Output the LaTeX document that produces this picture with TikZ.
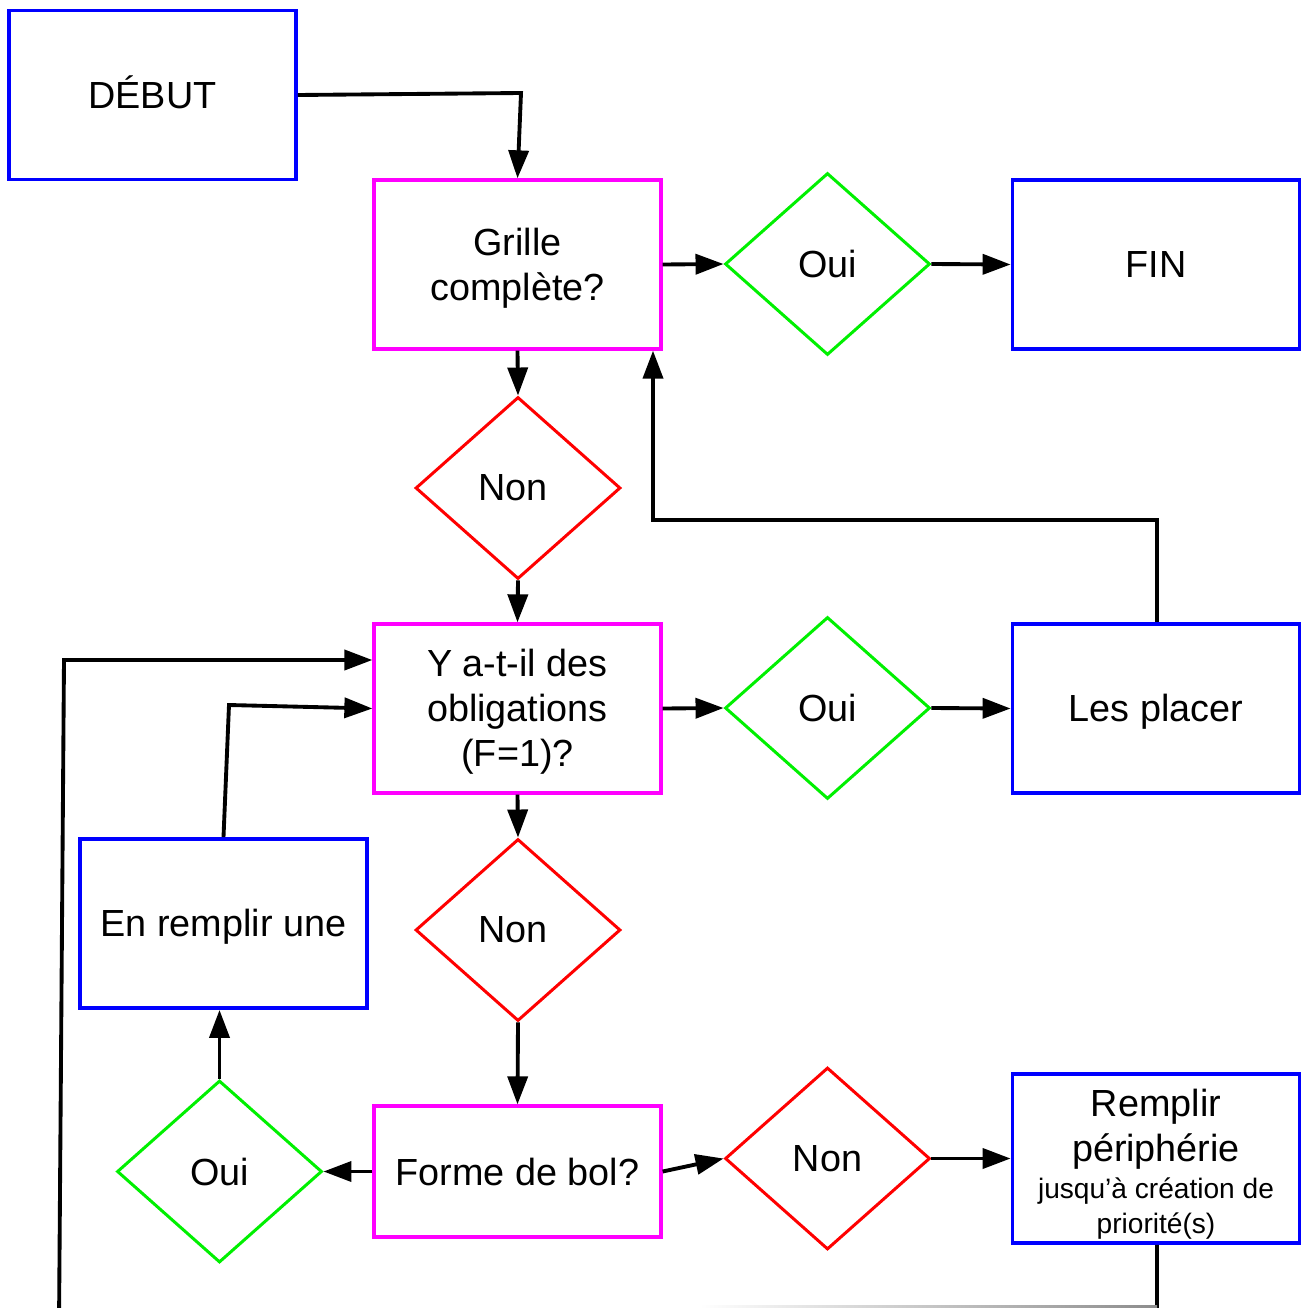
\documentclass[tikz,border=0pt]{standalone}
\usepackage{fontspec}
\setmainfont{Liberation Sans}
\usetikzlibrary{shapes.geometric,arrows.meta}
\definecolor{cblue}{RGB}{0,0,255}
\definecolor{cmag}{RGB}{255,0,255}
\definecolor{cgreen}{RGB}{0,240,0}
\definecolor{cred}{RGB}{255,0,0}
\newcommand\txtbig{\fontsize{21.5}{25.6}\selectfont}
\newcommand\txtsmall{\fontsize{16}{19}\selectfont}
\newcommand\lstrut{\rule[-0.212em]{0pt}{1.117em}}
\newcommand\tstrut{\rule{0pt}{0.905em}}
\newcommand\bstrut{\rule[-0.212em]{0pt}{0.212em}}
\begin{document}
\begin{tikzpicture}[x=0.02cm,y=-0.02cm,
  bluebox/.style={draw=cblue, line width=2.2pt, rectangle, minimum width=5.74cm, minimum height=3.38cm, inner sep=0pt, align=center, font=\txtbig},
  magbox/.style={draw=cmag, line width=1.9pt, rectangle, minimum width=5.74cm, minimum height=3.38cm, inner sep=0pt, align=center, font=\txtbig},
  gdia/.style={draw=cgreen, line width=1.7pt, diamond, minimum width=4.1cm, minimum height=3.64cm, inner sep=0pt, font=\txtbig},
  rdia/.style={draw=cred, line width=1.7pt, diamond, minimum width=4.1cm, minimum height=3.64cm, inner sep=0pt, font=\txtbig},
  arr/.style={line width=2.2pt, -{Triangle[length=0.56cm,width=0.4cm]}}
]
\fill[white] (0,0) rectangle (1303,1308);
\useasboundingbox (0,0) rectangle (1303,1308);

% nodes
\node[bluebox] (debut) at (152.5,95) {\lstrut DÉBUT};
\node[magbox] (grille) at (517.5,264.5) {\tstrut Grille\\complète?\bstrut};
\node[gdia] (oui1) at (827.5,264) {Oui};
\node[bluebox] (fin) at (1156,264.5) {FIN};
\node[rdia] (non1) at (518,488) {Non\rule{0.2cm}{0pt}};
\node[magbox] (ybox) at (517.5,708.5) {\tstrut Y a-t-il des\\obligations\\(F=1)?\bstrut};
\node[gdia] (oui2) at (827.5,708) {Oui};
\node[bluebox] (placer) at (1156,708.5) {\lstrut Les placer};
\node[bluebox] (enrem) at (223.5,923.5) {\lstrut En remplir une};
\node[rdia] (non2) at (518,930) {Non\rule{0.2cm}{0pt}};
\node[magbox, minimum height=2.62cm] (forme) at (517.5,1171.5) {Forme de bol?};
\node[gdia] (oui3) at (219.5,1171.5) {Oui};
\node[rdia] (non3) at (827.5,1158.5) {Non};
\node[bluebox] (rempl) at (1156,1158.5) {\rule{0pt}{1.03em}Remplir\\périphérie\\[-0.16cm]{\txtsmall jusqu’à création de}\\[-0.2cm]{\txtsmall priorité(s)}};

% helper coordinates
\coordinate (c1) at (521,93);
\coordinate (c2) at (1157,520);
\coordinate (c3) at (653,520);
\coordinate (c4) at (229,705);
\coordinate (c5) at (1157,1325);
\coordinate (c6) at (59,1325);
\coordinate (c7) at (64,660);

% connectors
\draw[arr] (debut.east) -- (c1) -- (grille.north);
\draw[arr] (grille.east) -- (oui1.west);
\draw[arr] (oui1.east) -- (fin.west);
\draw[arr] (grille.south) -- (non1.north);
\draw[arr] (non1.south) -- (ybox.north);
\draw[arr] (ybox.east) -- (oui2.west);
\draw[arr] (oui2.east) -- (placer.west);
\draw[arr] (placer.north -| c2) -- (c2) -- (c3) -- (grille.south -| c3);
\draw[arr] (ybox.south) -- (non2.north);
\draw[arr] (non2.south) -- (forme.north);
\draw[arr] (forme.west) -- (oui3.east);
\draw[arr] (oui3.north) -- (oui3.north |- enrem.south);
\draw[arr] (enrem.north) -- (c4) -- (ybox.west);
\draw[arr] (forme.east) -- (non3.west);
\draw[arr] (non3.east) -- (rempl.west);
\draw[arr] (rempl.south -| c5) -- (c5) -- (c6) -- (c7) -- (c7 -| ybox.west);
\shade[left color=white, right color=black!45] (700,1305) rectangle (1157,1308);
\end{tikzpicture}
\end{document}
